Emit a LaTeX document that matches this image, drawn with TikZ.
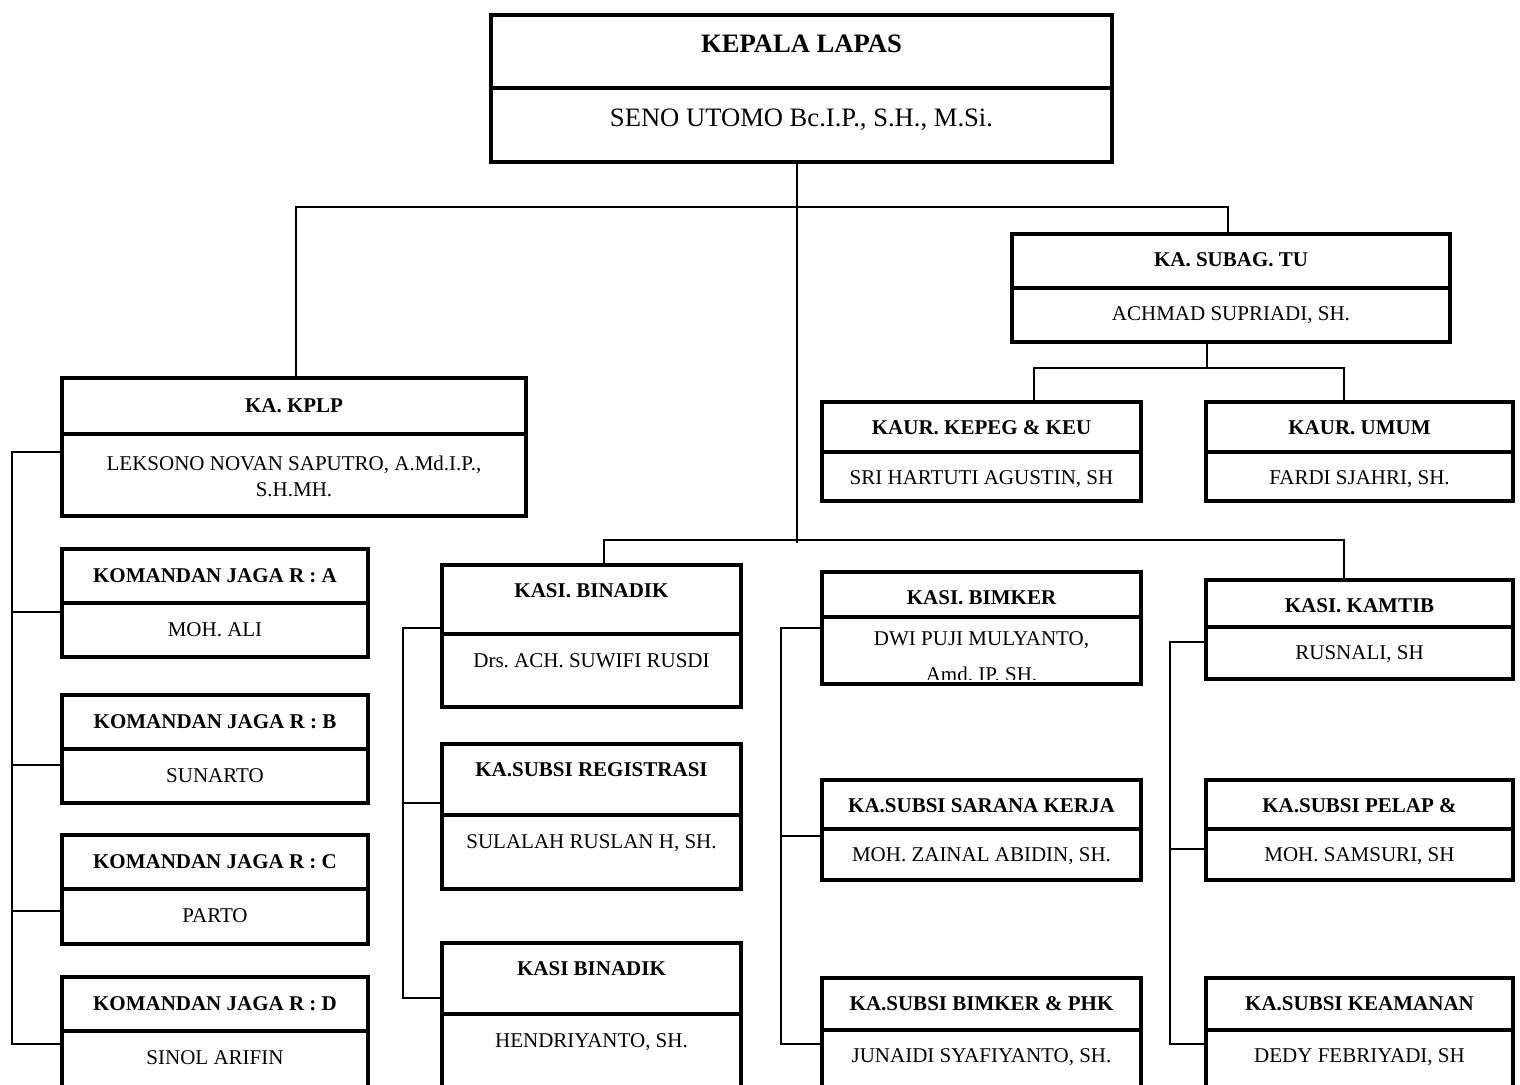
\documentclass[tikz,border=0pt]{standalone}
\usepackage{fontspec}
\setmainfont{Liberation Serif}
\frenchspacing
\begin{document}
\begin{tikzpicture}[x=1pt,y=-1pt,
  orgrect/.style={draw=black, line width=3.5pt, inner sep=0pt, outer sep=0pt, rectangle},
  divline/.style={draw=black, line width=3.5pt},
  titlest/.style={font=\fontsize{21}{25.2}\selectfont\bfseries, anchor=base, inner sep=0pt, align=center},
  namest/.style={font=\fontsize{21}{25.2}\selectfont, anchor=base, inner sep=0pt, align=center},
  bigtitle/.style={font=\fontsize{26.6}{32}\selectfont\bfseries, anchor=base, inner sep=0pt},
  bigname/.style={font=\fontsize{26.6}{32}\selectfont, anchor=base, inner sep=0pt},
  conn/.style={draw=black, line width=1.6pt}]
\useasboundingbox (0,0) rectangle (1520,1084);
\clip (0,0) rectangle (1520,1084);
\def\toff{32}\def\noff{32}
% #1 name, #2 x1, #3 y1, #4 x2, #5 y2, #6 ydiv, #7 title, #8 person
\newcommand{\obox}[8]{%
  \node[orgrect, minimum width={(#4-#2)*1pt}, minimum height={(#5-#3)*1pt}, anchor=north west] (#1) at (#2,#3) {};
  \draw[divline] (#2,#6) -- (#4,#6);
  \node[titlest] (#1-t) at ({(#2+#4)/2},{#3+\toff}) {#7};
  \node[namest] (#1-n) at ({(#2+#4)/2},{#6+\noff}) {#8};
}
% top box
\node[orgrect, minimum width=621pt, minimum height=147pt, anchor=north west] (kepala) at (491,15) {};
\draw[divline] (491,88) -- (1112,88);
\node[bigtitle] (kepala-t) at (801.5,52) {KEPALA LAPAS};
\node[bigname] (kepala-n) at (801.5,126) {SENO UTOMO Bc.I.P., S.H., M.Si.};

\obox{subag}{1012}{234}{1450}{342}{288}{KA. SUBAG. TU}{ACHMAD SUPRIADI, SH.}
\obox{kaura}{822}{402}{1141}{501}{452}{KAUR. KEPEG \& KEU}{SRI HARTUTI AGUSTIN, SH}
\obox{kaurb}{1206}{402}{1513}{501}{452}{KAUR. UMUM}{FARDI SJAHRI, SH.}

\def\toff{34}\def\noff{62}
\obox{kplp}{62}{378}{526}{516}{434}{KA. KPLP}{LEKSONO NOVAN SAPUTRO, A.Md.I.P.,\\[0.8pt] S.H.MH.}
\def\toff{33}\def\noff{33}
\obox{kja}{62}{549}{368}{657}{603}{KOMANDAN JAGA R : A}{MOH. ALI}
\obox{kjb}{62}{695}{368}{803}{749}{KOMANDAN JAGA R : B}{SUNARTO}
\obox{kjc}{62}{835}{368}{944}{889}{KOMANDAN JAGA R : C}{PARTO}
\obox{kjd}{62}{977}{368}{1110}{1031}{KOMANDAN JAGA R : D}{SINOL ARIFIN}

\def\toff{32}\def\noff{33}
\obox{binadik}{442}{565}{741}{707}{634}{KASI. BINADIK}{Drs. ACH. SUWIFI RUSDI}
\obox{regis}{442}{744}{741}{889}{815}{KA.SUBSI REGISTRASI}{SULALAH RUSLAN H, SH.}
\obox{binadikb}{442}{943}{741}{1110}{1014}{KASI BINADIK}{HENDRIYANTO, SH.}

% BIMKER with clipped second line
\node[orgrect, minimum width=319pt, minimum height=112pt, anchor=north west] (bimker) at (822,572) {};
\draw[divline] (822,617) -- (1141,617);
\node[titlest] (bimker-t) at (981.5,604) {KASI. BIMKER};
\node[namest] (bimker-n) at (981.5,645) {DWI PUJI MULYANTO,};
\begin{scope}
\clip (822,617) rectangle (1141,679);
\node[namest] (bimker-n2) at (981.5,681) {Amd. IP. SH.};
\end{scope}

\def\toff{32}\def\noff{32}
\obox{sarana}{822}{780}{1141}{880}{829}{KA.SUBSI SARANA KERJA}{MOH. ZAINAL ABIDIN, SH.}
\obox{phk}{822}{978}{1141}{1110}{1030}{KA.SUBSI BIMKER \& PHK}{JUNAIDI SYAFIYANTO, SH.}
\obox{kamtib}{1206}{580}{1513}{679}{627}{KASI. KAMTIB}{RUSNALI, SH}
\obox{pelap}{1206}{780}{1513}{880}{829}{KA.SUBSI PELAP \&}{MOH. SAMSURI, SH}
\obox{keam}{1206}{978}{1513}{1110}{1030}{KA.SUBSI KEAMANAN}{DEDY FEBRIYADI, SH}

% connector coordinates
\coordinate (busTop) at (797,207);
\coordinate (busMid) at (797,543);
\coordinate (hL) at (296,207);
\coordinate (hR) at (1228,207);
\coordinate (sDrop) at (1207,368);
\coordinate (sL) at (1034,368);
\coordinate (sR) at (1344,368);
\coordinate (cL) at (604,540);
\coordinate (cR) at (1344,540);
% left bus
\coordinate (la) at (12,452);
\coordinate (lb) at (12,612);
\coordinate (lc) at (12,765);
\coordinate (ld) at (12,911);
\coordinate (le) at (12,1044);
% binadik bus
\coordinate (ba) at (403,628);
\coordinate (bb) at (403,803);
\coordinate (bc) at (403,998);
% bimker bus
\coordinate (ma) at (781,628);
\coordinate (mb) at (781,836);
\coordinate (mc) at (781,1044);
% kamtib bus
\coordinate (ka) at (1170,642);
\coordinate (kb) at (1170,849);
\coordinate (kc) at (1170,1044);

\draw[conn] (kepala.south -| busTop) -- (busMid);
\draw[conn] (kplp.north -| hL) -- (hL) -- (hR) -- (subag.north -| hR);
\draw[conn] (subag.south -| sDrop) -- (sDrop);
\draw[conn] (kaura.north -| sL) -- (sL) -- (sR) -- (kaurb.north -| sR);
\draw[conn] (binadik.north -| cL) -- (cL) -- (cR) -- (kamtib.north -| cR);

\draw[conn] (kplp.west |- la) -- (la) -- (le) -- (kjd.west |- le);
\draw[conn] (lb) -- (kja.west |- lb);
\draw[conn] (lc) -- (kjb.west |- lc);
\draw[conn] (ld) -- (kjc.west |- ld);

\draw[conn] (binadik.west |- ba) -- (ba) -- (bc) -- (binadikb.west |- bc);
\draw[conn] (bb) -- (regis.west |- bb);

\draw[conn] (bimker.west |- ma) -- (ma) -- (mc) -- (phk.west |- mc);
\draw[conn] (mb) -- (sarana.west |- mb);

\draw[conn] (kamtib.west |- ka) -- (ka) -- (kc) -- (keam.west |- kc);
\draw[conn] (kb) -- (pelap.west |- kb);
\end{tikzpicture}
\end{document}
